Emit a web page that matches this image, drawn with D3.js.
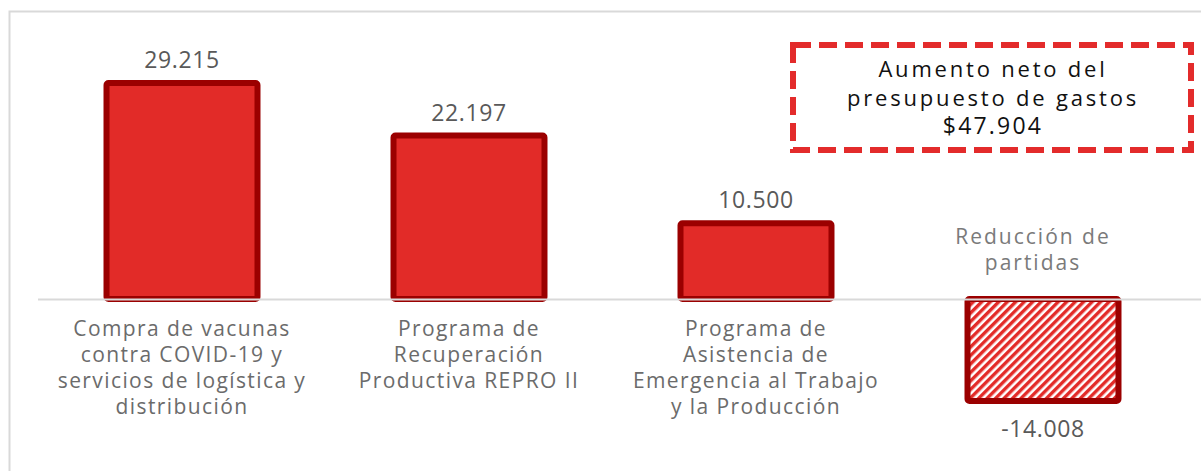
<!DOCTYPE html>
<html>
<head>
<meta charset="utf-8">
<script src="https://cdn.jsdelivr.net/npm/d3@7"></script>
<style>
  body { margin: 0; background: #fff; }
  svg text { font-family: "Open Sans", sans-serif; }
</style>
</head>
<body>
<svg width="1201" height="471"></svg>
<script>
// data (millones de pesos)
const categories = ["vacunas", "repro", "asistencia", "reduccion"];
const categoryLabels = [
  ["Compra de vacunas", "contra COVID-19 y", "servicios de logística y", "distribución"],
  ["Programa de", "Recuperación", "Productiva REPRO II"],
  ["Programa de", "Asistencia de", "Emergencia al Trabajo", "y la Producción"],
  []
];
const values = [29215, 22197, 10500, -14008];
const reductionLabel = ["Reducción de", "partidas"];
const boxLines = ["Aumento neto del", "presupuesto de gastos"];

const es = d3.formatLocale({decimal: ",", thousands: ".", grouping: [3], currency: ["$", ""], minus: "-"});
const fmt = es.format(",.0f");
const fmtMoney = es.format("$,.0f");

let svg = d3.select("svg");

// frame
svg.append("rect")
  .attr("x", 9.5).attr("y", 11.5)
  .attr("width", 1200).attr("height", 470)
  .attr("fill", "none").attr("stroke", "#d9d9d9").attr("stroke-width", 2);

let x = d3.scaleBand().domain(categories).range([38.5, 1186.5])
  .paddingInner(0.453).paddingOuter(0.2265);
let y = d3.scaleLinear().domain([-14008, 29215]).range([404, 80]);

let defs = svg.append("defs");
let pat = defs.append("pattern")
  .attr("id", "hatch").attr("patternUnits", "userSpaceOnUse")
  .attr("width", 6).attr("height", 6)
  .attr("patternTransform", "rotate(45)");
pat.append("rect").attr("width", 6).attr("height", 6).attr("fill", "#ffffff");
pat.append("rect").attr("width", 3.4).attr("height", 6).attr("fill", "#e32b28");

let data = categories.map((c, i) => ({id: c, value: values[i], lines: categoryLabels[i]}));
let sw = 6;
let cx = id => x(id) + x.bandwidth() / 2;

let bars = svg.append("g");
bars.selectAll("rect")
  .data(data)
  .enter().append("rect")
  .attr("x", d => x(d.id) + sw / 2)
  .attr("width", x.bandwidth() - sw)
  .attr("y", d => d.value > 0 ? y(d.value) + sw / 2 : y(0))
  .attr("height", d => Math.abs(y(d.value) - y(0)) - sw / 2)
  .attr("rx", 2)
  .attr("fill", d => d.value > 0 ? "#e22b28" : "url(#hatch)")
  .attr("stroke", "#9b0000")
  .attr("stroke-width", sw);

// zero line
svg.append("line")
  .attr("x1", 38).attr("x2", 1201)
  .attr("y1", y(0) + 0.5).attr("y2", y(0) + 0.5)
  .attr("stroke", "#d9d9d9").attr("stroke-width", 2);

// value labels
svg.append("g").selectAll("text")
  .data(data)
  .enter().append("text")
  .attr("x", d => cx(d.id))
  .attr("y", d => d.value > 0 ? y(d.value) - 12 : y(d.value) + 33)
  .attr("text-anchor", "middle")
  .attr("font-size", 23)
  .attr("letter-spacing", 0.6)
  .attr("fill", "#595959")
  .text(d => fmt(d.value));

// category labels, one text per line
let catLines = [];
data.forEach(d => d.lines.forEach((l, i) => catLines.push({l: l, x: cx(d.id), i: i})));
svg.append("g").selectAll("text")
  .data(catLines)
  .enter().append("text")
  .attr("x", d => d.x)
  .attr("y", d => y(0) + 37 + d.i * 26)
  .attr("text-anchor", "middle")
  .attr("font-size", 21)
  .attr("letter-spacing", 1.4)
  .attr("fill", "#6b6b6b")
  .text(d => d.l);

// reduction note
let last = data[data.length - 1];
svg.append("g").selectAll("text")
  .data(reductionLabel)
  .enter().append("text")
  .attr("x", cx(last.id) - 10)
  .attr("y", (d, i) => y(0) - 55 + i * 26)
  .attr("text-anchor", "middle")
  .attr("font-size", 21)
  .attr("letter-spacing", 2)
  .attr("fill", "#7a7a7a")
  .text(d => d);

// total box
let total = d3.sum(values);
svg.append("rect")
  .attr("x", 793).attr("y", 45)
  .attr("width", 398).attr("height", 105)
  .attr("fill", "none")
  .attr("stroke", "#e32b2b").attr("stroke-width", 6)
  .attr("stroke-dasharray", "18 8");
svg.append("g").selectAll("text")
  .data(boxLines)
  .enter().append("text")
  .attr("x", 993)
  .attr("y", (d, i) => 77 + i * 28.5)
  .attr("text-anchor", "middle")
  .attr("font-size", 22)
  .attr("letter-spacing", 2.8)
  .attr("fill", "#111")
  .text(d => d);
svg.append("text")
  .attr("x", 993).attr("y", 134)
  .attr("text-anchor", "middle")
  .attr("font-size", 23)
  .attr("letter-spacing", 2.2)
  .attr("font-weight", 500)
  .attr("fill", "#111")
  .text(fmtMoney(total));
</script>
</body>
</html>
